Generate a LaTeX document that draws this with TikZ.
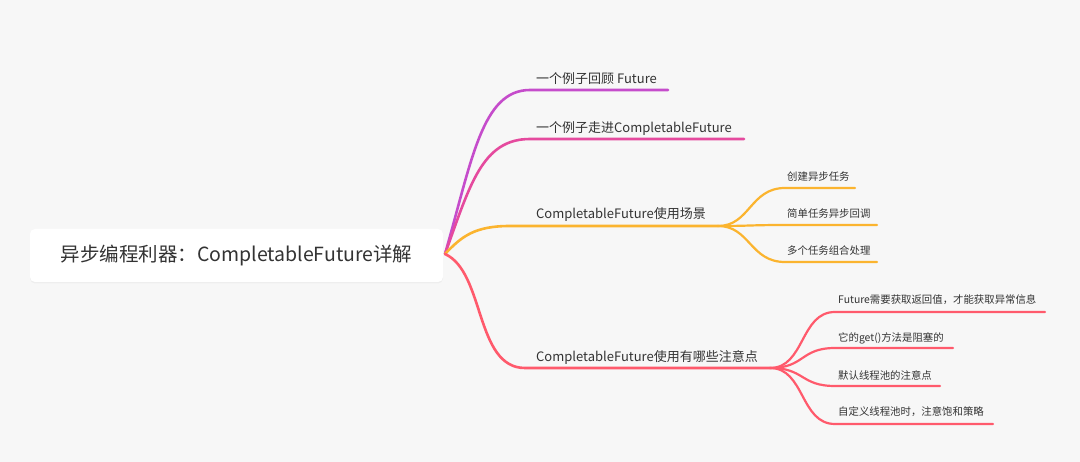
\documentclass[tikz,border=0pt]{standalone}
\usepackage{fontspec}
\setmainfont{Noto Sans CJK SC}
\usetikzlibrary{shadows}
\definecolor{bgc}{HTML}{F7F7F7}
\definecolor{txt}{HTML}{333333}
\definecolor{cpur}{HTML}{C54CCB}
\definecolor{cpink}{HTML}{E54A9E}
\definecolor{corange}{HTML}{FBB42F}
\definecolor{cred}{HTML}{FF5A6C}
\tikzset{
  mainlbl/.style={anchor=west, inner sep=0pt, text=txt, font=\fontsize{13}{15}\selectfont},
  sublbl/.style={anchor=west, inner sep=0pt, text=txt, font=\fontsize{10.4}{12}\selectfont},
  mainline/.style={line width=2.6pt, line cap=round},
  subline/.style={line width=2.2pt, line cap=round},
}
\begin{document}
\begin{tikzpicture}[x=1pt,y=-1pt]
\fill[bgc] (0,0) rectangle (1080,462);
\useasboundingbox (0,0) rectangle (1080,462);
% root
\node[draw=none, fill=white, rounded corners=5pt, minimum width=413pt, minimum height=53pt,
  drop shadow={opacity=0.07, shadow xshift=0pt, shadow yshift=-1.5pt},
  text=txt, font=\fontsize{19.5}{22}\selectfont] (root) at (236.5,255.5) {异步编程利器：CompletableFuture详解};
\coordinate (o) at (445,254);
% branch 1
\coordinate (b1s) at (530,90); \coordinate (b1e) at (668,90);
\node[mainlbl] (t1) at (536,79) {一个例子回顾 Future};
\draw[mainline, cpur] (o) .. controls (472,160) and (482,90) .. (b1s) -- (b1e);
% branch 2
\coordinate (b2s) at (530,139); \coordinate (b2e) at (744,139);
\node[mainlbl] (t2) at (536,129) {一个例子走进CompletableFuture};
\draw[mainline, cpink] (o) .. controls (470,185) and (482,139) .. (b2s) -- (b2e);
% branch 3
\coordinate (b3s) at (510,226); \coordinate (b3e) at (718,226);
\node[mainlbl] (t3) at (536,215) {CompletableFuture使用场景};
\draw[mainline, corange] (o) .. controls (462,236) and (475,226) .. (b3s) -- (b3e);
% sub of branch 3
\coordinate (s1s) at (785,188); \coordinate (s1e) at (855,188);
\coordinate (s2s) at (785,225); \coordinate (s2e) at (877,225);
\coordinate (s3s) at (785,262); \coordinate (s3e) at (877,262);
\node[sublbl] (u1) at (787,177) {创建异步任务};
\node[sublbl] (u2) at (787,214) {简单任务异步回调};
\node[sublbl] (u3) at (787,251) {多个任务组合处理};
\draw[subline, corange] (b3e) .. controls (750,226) and (750,188) .. (s1s) -- (s1e);
\draw[subline, corange] (b3e) .. controls (750,226) and (750,225) .. (s2s) -- (s2e);
\draw[subline, corange] (b3e) .. controls (750,226) and (750,262) .. (s3s) -- (s3e);
% branch 4
\coordinate (b4s) at (525,368); \coordinate (b4e) at (770,368);
\node[mainlbl] (t4) at (536,357) {CompletableFuture使用有哪些注意点};
\draw[mainline, cred] (o) .. controls (485,272) and (475,368) .. (b4s) -- (b4e);
% sub of branch 4
\coordinate (r1s) at (835,312); \coordinate (r1e) at (1045,312);
\coordinate (r2s) at (835,348); \coordinate (r2e) at (953,348);
\coordinate (r3s) at (835,386); \coordinate (r3e) at (940,386);
\coordinate (r4s) at (835,424); \coordinate (r4e) at (993,424);
\node[sublbl] (v1) at (838,300) {Future需要获取返回值，才能获取异常信息};
\node[sublbl] (v2) at (838,338) {它的get()方法是阻塞的};
\node[sublbl] (v3) at (838,376) {默认线程池的注意点};
\node[sublbl] (v4) at (838,412) {自定义线程池时，注意饱和策略};
\draw[subline, cred] (b4e) .. controls (805,368) and (800,312) .. (r1s) -- (r1e);
\draw[subline, cred] (b4e) .. controls (805,368) and (800,348) .. (r2s) -- (r2e);
\draw[subline, cred] (b4e) .. controls (805,368) and (800,386) .. (r3s) -- (r3e);
\draw[subline, cred] (b4e) .. controls (805,368) and (800,424) .. (r4s) -- (r4e);
\end{tikzpicture}
\end{document}
